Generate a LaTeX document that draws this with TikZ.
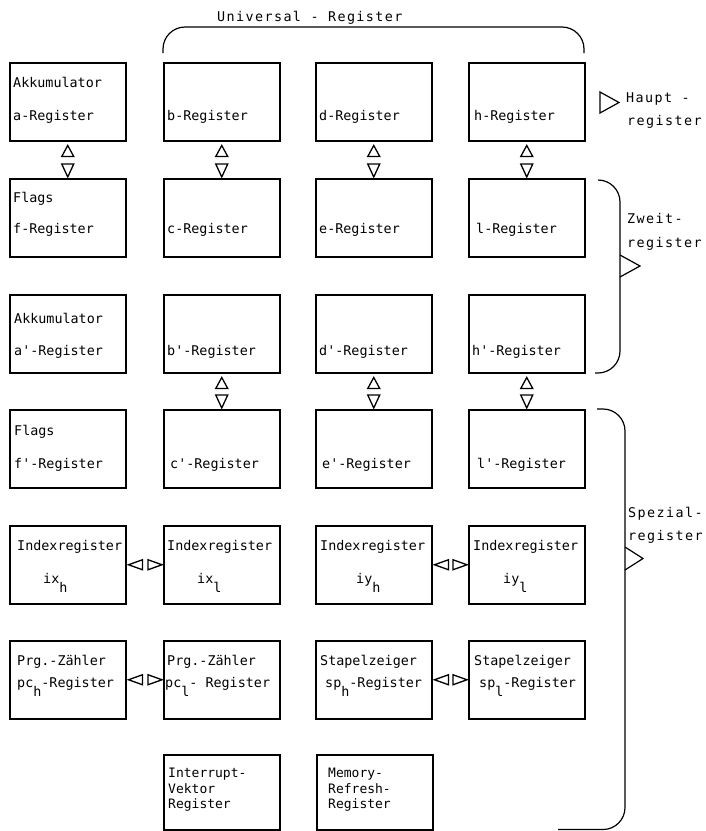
\documentclass[tikz,border=0pt]{standalone}
\usepackage{fontspec}
\usetikzlibrary{calc}
\newfontfamily\boxfam{DejaVu Sans Mono}
\newfontfamily\annfam[LetterSpace=10.5]{DejaVu Sans Mono}
\newcommand\sbx[1]{\raisebox{-9pt}{#1}}
\newcommand\vlinkpair[2]{%
  \draw[tri] ($(#1.south)+(0,4)$) -- ($(#1.south)+(-6,15)$) -- ($(#1.south)+(6,15)$) -- cycle;
  \draw[tri] ($(#2.north)+(0,-1)$) -- ($(#2.north)+(-6,-14)$) -- ($(#2.north)+(6,-14)$) -- cycle;}
\newcommand\hlinkpair[2]{%
  \draw[tri] ($(#1.east)+(2,0)$) -- ($(#1.east)+(16,-5)$) -- ($(#1.east)+(16,5)$) -- cycle;
  \draw[tri] ($(#2.west)+(-1,0)$) -- ($(#2.west)+(-15,-5)$) -- ($(#2.west)+(-15,5)$) -- cycle;}
\tikzset{
  regbox/.style={draw, line width=1.5pt, minimum width=116pt, minimum height=78pt, anchor=north west, inner sep=0pt},
  txt/.style={anchor=base west, inner sep=0pt, font=\boxfam\fontsize{13.4}{16}\selectfont},
  stxt/.style={anchor=base west, inner sep=0pt, font=\boxfam\fontsize{13}{15}\selectfont},
  ann/.style={anchor=base west, inner sep=0pt, font=\annfam\fontsize{13.4}{16}\selectfont},
  tri/.style={draw, line width=1.3pt, line join=miter},
  brace/.style={draw, line width=1.2pt, rounded corners=22pt},
}
\begin{document}
\begin{tikzpicture}[x=1pt,y=-1pt]
\useasboundingbox (0,0) rectangle (706,831);
% boxes
\node[regbox] (b11) at (9,62) {};
\node[regbox] (b12) at (163,62) {};
\node[regbox] (b13) at (315,62) {};
\node[regbox] (b14) at (468,62) {};
\node[regbox] (b21) at (9,178) {};
\node[regbox] (b22) at (163,178) {};
\node[regbox] (b23) at (315,178) {};
\node[regbox] (b24) at (468,178) {};
\node[regbox] (b31) at (9,294) {};
\node[regbox] (b32) at (163,294) {};
\node[regbox] (b33) at (315,294) {};
\node[regbox] (b34) at (468,294) {};
\node[regbox] (b41) at (9,409) {};
\node[regbox] (b42) at (163,409) {};
\node[regbox] (b43) at (315,409) {};
\node[regbox] (b44) at (468,409) {};
\node[regbox] (b51) at (9,525) {};
\node[regbox] (b52) at (163,525) {};
\node[regbox] (b53) at (315,525) {};
\node[regbox] (b54) at (468,525) {};
\node[regbox] (b61) at (9,640) {};
\node[regbox] (b62) at (163,640) {};
\node[regbox] (b63) at (315,640) {};
\node[regbox] (b64) at (468,640) {};
\node[regbox, minimum height=75pt] (b72) at (163,754) {};
\node[regbox, minimum height=75pt] (b73) at (316,754) {};
% texts row 1
\node[txt] (t11a) at (13,87) {Akkumulator};
\node[txt] (t11b) at (13,120) {a-Register};
\node[txt] (t12) at (167,120) {b-Register};
\node[txt] (t13) at (319,120) {d-Register};
\node[txt] (t14) at (474,120) {h-Register};
% row 2
\node[txt] (t21a) at (13,202) {Flags};
\node[txt] (t21b) at (13,233) {f-Register};
\node[txt] (t22) at (167,233) {c-Register};
\node[txt] (t23) at (319,233) {e-Register};
\node[txt] (t24) at (476,233) {l-Register};
% row 3
\node[txt] (t31a) at (14,323) {Akkumulator};
\node[txt] (t31b) at (14,355) {a'-Register};
\node[txt] (t32) at (167,355) {b'-Register};
\node[txt] (t33) at (319,355) {d'-Register};
\node[txt] (t34) at (472,355) {h'-Register};
% row 4
\node[txt] (t41a) at (14,435) {Flags};
\node[txt] (t41b) at (14,468) {f'-Register};
\node[txt] (t42) at (170,468) {c'-Register};
\node[txt] (t43) at (322,468) {e'-Register};
\node[txt] (t44) at (477,468) {l'-Register};
% row 5
\node[txt] (t51a) at (17,550) {Indexregister};
\node[txt] (t51b) at (43,583) {ix\sbx{h}};
\node[txt] (t52a) at (167,550) {Indexregister};
\node[txt] (t52b) at (197,583) {ix\sbx{l}};
\node[txt] (t53a) at (320,550) {Indexregister};
\node[txt] (t53b) at (356,583) {iy\sbx{h}};
\node[txt] (t54a) at (473,550) {Indexregister};
\node[txt] (t54b) at (503,583) {iy\sbx{l}};
% row 6
\node[txt] (t61a) at (17,665) {Prg.-Zähler};
\node[txt] (t61b) at (17,687) {pc\sbx{h}-Register};
\node[txt] (t62a) at (167,665) {Prg.-Zähler};
\node[txt] (t62b) at (165,687) {pc\sbx{l}- Register};
\node[txt] (t63a) at (320,665) {Stapelzeiger};
\node[txt] (t63b) at (325,687) {sp\sbx{h}-Register};
\node[txt] (t64a) at (474,665) {Stapelzeiger};
\node[txt] (t64b) at (479,687) {sp\sbx{l}-Register};
% row 7
\node[stxt] (t72a) at (168,777) {Interrupt-};
\node[stxt] (t72b) at (168,793) {Vektor};
\node[stxt] (t72c) at (168,808) {Register};
\node[stxt] (t73a) at (328,777) {Memory-};
\node[stxt] (t73b) at (328,793) {Refresh-};
\node[stxt] (t73c) at (328,808) {Register};
% links
\vlinkpair{b11}{b21}
\vlinkpair{b12}{b22}
\vlinkpair{b13}{b23}
\vlinkpair{b14}{b24}
\vlinkpair{b32}{b42}
\vlinkpair{b33}{b43}
\vlinkpair{b34}{b44}
\hlinkpair{b51}{b52}
\hlinkpair{b53}{b54}
\hlinkpair{b61}{b62}
\hlinkpair{b63}{b64}
% Universal bracket
\coordinate (u1) at (163,53);
\coordinate (u2) at (584,53);
\draw[brace] (u1) -- (163,27) -- (584,27) -- (u2);
\node[ann] (uni) at (217,21) {Universal - Register};
% Haupt
\coordinate (h1) at (600,92);
\draw[tri, line width=1.2pt] (h1) -- (619,102.5) -- (600,113) -- cycle;
\node[ann] (haupt1) at (626,102) {Haupt -};
\node[ann] (haupt2) at (627,125) {register};
% Zweit bracket
\coordinate (z1) at (598,180);
\coordinate (z2) at (595,373);
\draw[brace] (z1) -- (620,180) -- (620,373) -- (z2);
\draw[line width=1.2pt, line join=miter] (620,255) -- (640,266) -- (620,277);
\node[ann] (zw1) at (627,223) {Zweit-};
\node[ann] (zw2) at (627,247) {register};
% Spezial bracket
\coordinate (s1) at (597,409);
\coordinate (s2) at (558,829.5);
\draw[brace] (s1) -- (625,409) -- (625,829.5) -- (s2);
\draw[line width=1.2pt, line join=miter] (625,547) -- (643,558.5) -- (625,570);
\node[ann] (sp1) at (628,517) {Spezial-};
\node[ann] (sp2) at (628,540) {register};
\end{tikzpicture}
\end{document}
